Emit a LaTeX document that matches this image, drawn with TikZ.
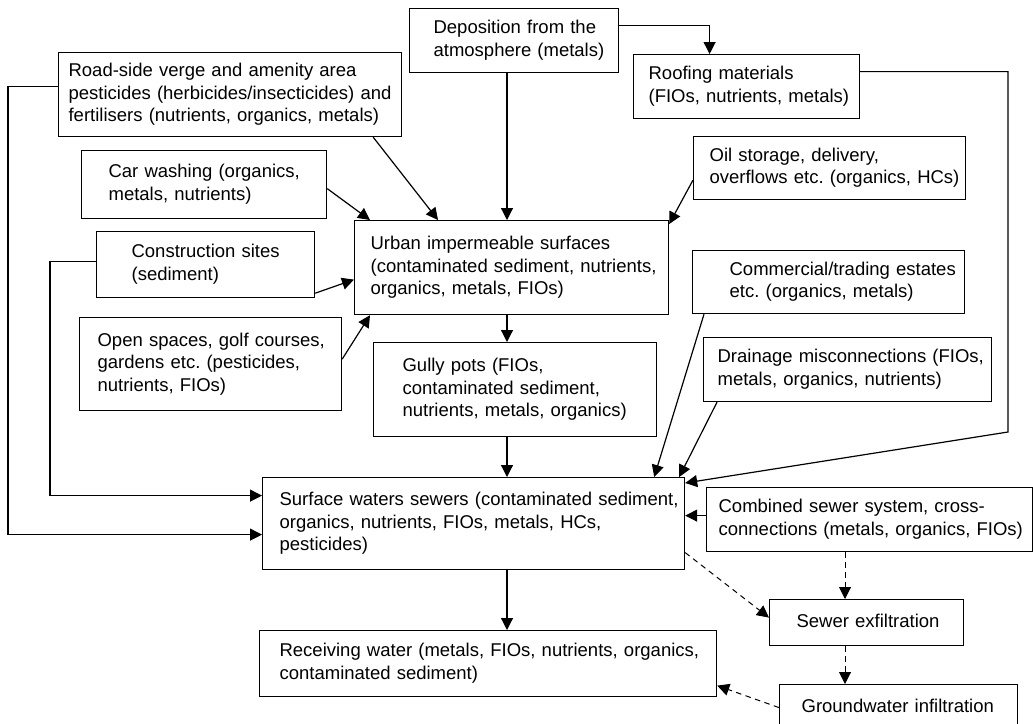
\documentclass[tikz,border=0pt]{standalone}
\usepackage{fontspec}
\setmainfont{Liberation Sans}
\usetikzlibrary{arrows.meta}
\usetikzlibrary{positioning}
\frenchspacing
\newcommand\boxlines[1]{\begin{tabular}{@{}l@{}}#1\end{tabular}}
\tikzset{>={Triangle[length=12pt, width=12pt]},
         box/.style = {draw, rectangle, anchor=north west, inner sep=0pt, align=left,
                       font=\fontsize{18.5}{22.5}\selectfont},
         seep/.style = {line width=1pt, dashed, dash pattern=on 5.5pt off 4.5pt}}

\begin{document}
\begin{tikzpicture}[x=1pt, y=-1pt, line width=1.2pt]
    \useasboundingbox (0, 0) rectangle (1033, 723);

    \node [box, minimum width=209, minimum height=64, text width=161] (dep) at (409, 8)
        {\boxlines{Deposition from the\\atmosphere (metals)}};
    \node [box, minimum width=226, minimum height=64, text width=196] (roof) at (633, 54)
        {\boxlines{Roofing materials\\(FIOs, nutrients, metals)}};
    \node [box, minimum width=343, minimum height=84, text width=323] (road) at (58, 52)
        {\boxlines{Road-side verge and amenity area\\pesticides (herbicides/insecticides) and\\fertilisers (nutrients, organics, metals)}};
    \node [box, minimum width=245, minimum height=68, text width=191] (car) at (81, 150)
        {\boxlines{Car washing (organics,\\metals, nutrients)}};
    \node [box, minimum width=218, minimum height=66, text width=148] (cons) at (96, 231)
        {\boxlines{Construction sites\\(sediment)}};
    \node [box, minimum width=262, minimum height=93, text width=226] (open) at (79, 317)
        {\boxlines{Open spaces, golf courses,\\gardens etc. (pesticides,\\nutrients, FIOs)}};
    \node [box, minimum width=314, minimum height=94, text width=282] (urban) at (354, 220)
        {\boxlines{Urban impermeable surfaces\\(contaminated sediment, nutrients,\\organics, metals, FIOs)}};
    \node [box, minimum width=283, minimum height=94, text width=225] (gully) at (373, 342)
        {\boxlines{Gully pots (FIOs,\\contaminated sediment,\\nutrients, metals, organics)}};
    \node [box, minimum width=272, minimum height=63, text width=240] (oil) at (693, 136)
        {\boxlines{Oil storage, delivery,\\overflows etc. (organics, HCs)}};
    \node [box, minimum width=272, minimum height=63, text width=198] (comm) at (692, 250)
        {\boxlines{Commercial/trading estates\\etc. (organics, metals)}};
    \node [box, minimum width=288, minimum height=64, text width=260] (drain) at (703, 337)
        {\boxlines{Drainage misconnections (FIOs,\\metals, organics, nutrients)}};
    \node [box, minimum width=422, minimum height=92, text width=388] (sws) at (262, 477)
        {\boxlines{Surface waters sewers (contaminated sediment,\\organics, nutrients, FIOs, metals, HCs,\\pesticides)}};
    \node [box, minimum width=326, minimum height=64, text width=302] (comb) at (706, 487)
        {\boxlines{Combined sewer system, cross-\\connections (metals, organics, FIOs)}};
    \node [box, minimum width=194, minimum height=46, text width=140] (exf) at (769, 599)
        {\boxlines{Sewer exfiltration}};
    \node [box, minimum width=457, minimum height=66, text width=417] (rec) at (259, 630)
        {\boxlines{Receiving water (metals, FIOs, nutrients, organics,\\contaminated sediment)}};
    \node [box, minimum width=238, minimum height=46, text width=194] (gw) at (779, 684)
        {\boxlines{Groundwater infiltration}};

    \coordinate (spine) at (507, 0);
    \coordinate (outer) at (8, 0);
    \coordinate (inner) at (50, 0);
    \coordinate (drop) at (845, 0);
    \coordinate (bend) at (1008, 432);

    \draw [->] (dep.south -| spine) -- (urban.north -| spine);
    \draw [->] ([yshift=15pt]dep.east) -| ([xshift=-37pt]roof.north);
    \draw [->] ([xshift=-29pt]road.south east) -- ([xshift=84pt]urban.north west);
    \draw [->] ([yshift=-4pt]car.east) -- ([xshift=16pt]urban.north west);
    \draw [->] ([yshift=5pt]cons.south east) -- ([yshift=-12pt]urban.west);
    \draw [->] ([yshift=5pt]open.east) -- ([xshift=16pt]urban.south west);
    \draw [->] ([yshift=-12pt]oil.west) -- ([yshift=-4pt]urban.north east);
    \draw [->] (urban.south -| spine) -- (gully.north -| spine);
    \draw [->] (gully.south -| spine) -- (sws.north -| spine);

    \draw [->] ([yshift=8pt]road.west) -| ([yshift=-11pt]sws.west -| outer) -- ([yshift=-11pt]sws.west);
    \draw [->] ([yshift=3pt]cons.west) -| ([yshift=28pt]sws.west -| inner) -- ([yshift=28pt]sws.west);
    \draw [->] ([yshift=15pt]roof.east) -| (bend) -- ([yshift=-6pt]sws.north east);
    \draw [->] ([xshift=12pt]comm.south west) -- ([xshift=-31pt]sws.north east);
    \draw [->] ([xshift=14pt]drain.south west) -- ([xshift=-6pt]sws.north east);
    \draw [->] ([yshift=4pt]comb.west) -- ([yshift=4pt]comb.west -| sws.east);
    \draw [->] (sws.south -| spine) -- (rec.north -| spine);

    \draw [->, seep] ([yshift=-29pt]sws.east) -- ([yshift=5pt]exf.west);
    \draw [->, seep] (comb.south -| drop) -- (exf.north -| drop);
    \draw [->, seep] (exf.south -| drop) -- (gw.north -| drop);
    \draw [->, seep] (gw.west) -- ([yshift=-22pt]rec.east);
\end{tikzpicture}
\end{document}
